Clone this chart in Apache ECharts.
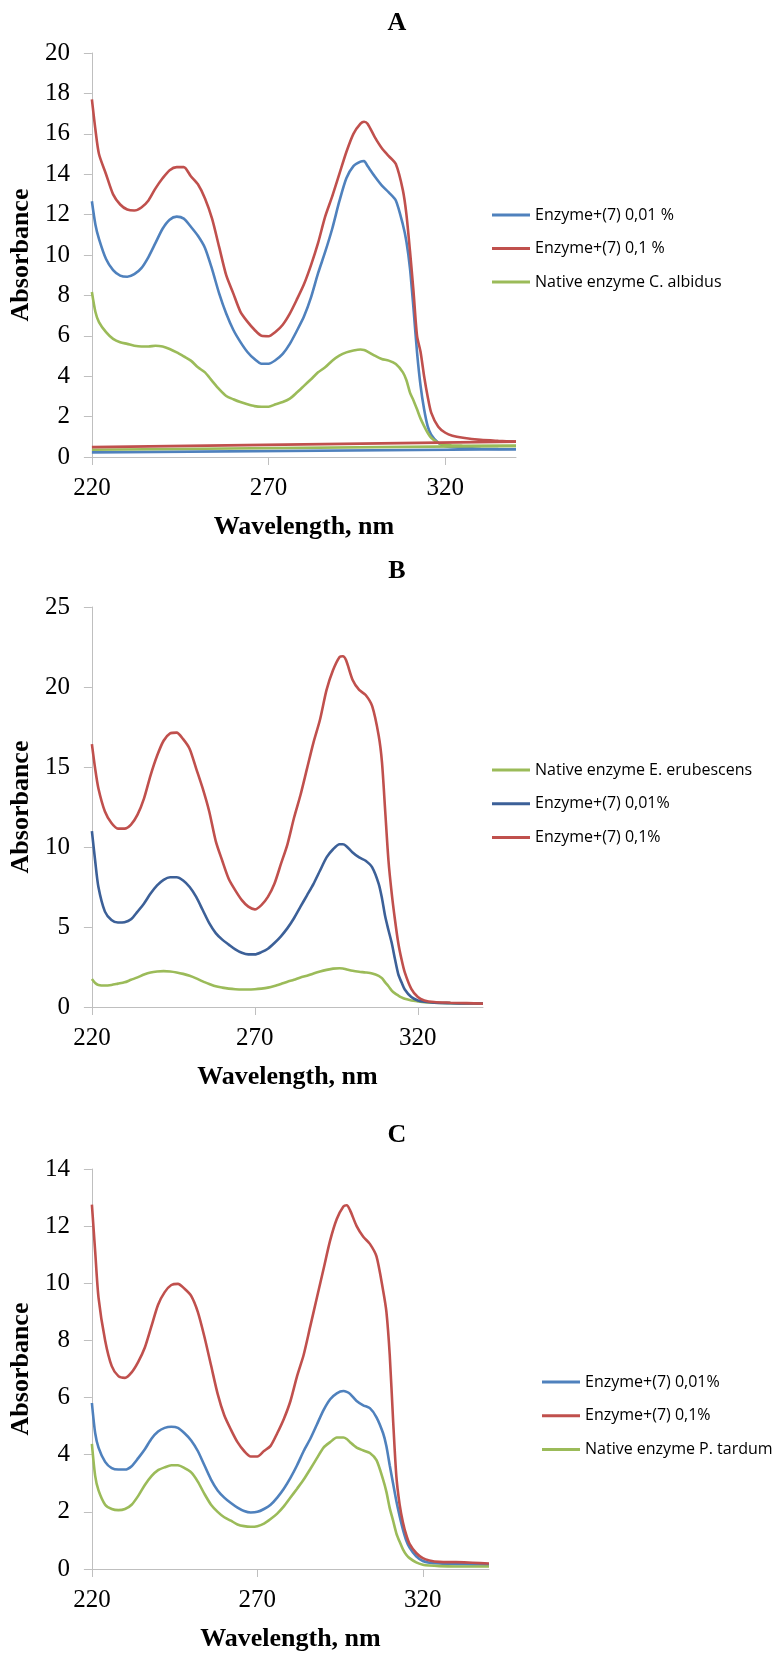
<!DOCTYPE html>
<html>
<head>
<meta charset="utf-8">
<script src="https://cdn.jsdelivr.net/npm/echarts@6/dist/echarts.min.js"></script>
<style>
  body { margin: 0; background: #fff; }
  .panel { position: absolute; left: 0; width: 772px; }
</style>
</head>
<body>
<div id="chartA" class="panel" style="top:0;height:545px"></div>
<div id="chartB" class="panel" style="top:545px;height:550px"></div>
<div id="chartC" class="panel" style="top:1095px;height:562px"></div>
<script>
// wavelength grid (nm) shared by all spectra
const wavelength = [220, 221, 222, 224, 226, 228, 230, 232, 234, 236, 238, 240, 242, 244, 246, 248, 250, 252, 254, 256,
  258, 260, 262, 264, 266, 268, 270, 272, 274, 276, 278, 280, 282, 284, 286, 288, 290, 292, 294, 296, 297, 298,
  300, 302, 304, 306, 308, 309, 310, 311, 312, 313, 314, 315, 316, 318, 320, 322, 325, 330, 335, 340];
const xTickValues = [220, 270, 320];

// Panel A
const aEnzyme001 = [12.66, 11.5, 10.8, 9.8, 9.25, 8.98, 8.92, 9.05, 9.35, 9.9, 10.6, 11.3, 11.75,
  11.9, 11.8, 11.4, 10.95, 10.35, 9.3, 8.1, 7.1, 6.3, 5.7, 5.2, 4.85, 4.62, 4.62, 4.8, 5.1, 5.6, 6.25, 6.95, 7.9,
  9.1, 10.15, 11.3, 12.65, 13.8, 14.4, 14.62, 14.65, 14.4, 13.9, 13.45, 13.1, 12.7, 11.5,
  10.66, 9.34, 7.34, 5.18, 3.52, 2.36, 1.53, 1.11, 0.7, 0.53, 0.48, 0.45, 0.41, 0.39, 0.38];
const aEnzyme01 = [17.7, 16.2, 15.0, 14.0, 13.0, 12.5, 12.25, 12.2, 12.35, 12.7, 13.3, 13.8, 14.2,
  14.35, 14.35, 13.9, 13.5, 12.8, 11.8, 10.4, 9.0, 8.1, 7.2, 6.7, 6.3, 6.0, 5.98, 6.2, 6.55, 7.1, 7.8, 8.55, 9.5,
  10.6, 11.9, 12.9, 14.0, 15.1, 16.0, 16.5, 16.6, 16.5, 15.85, 15.3, 14.9, 14.5, 13.2,
  12.0, 10.2, 8.2, 6.0, 5.2, 4.0, 3.0, 2.2, 1.5, 1.2, 1.05, 0.95, 0.85, 0.8, 0.76];
const aNative = [8.17, 7.18, 6.68, 6.18, 5.85, 5.68, 5.6, 5.51, 5.47, 5.47, 5.51, 5.47, 5.35,
  5.18, 4.98, 4.77, 4.44, 4.19, 3.77, 3.36, 3.02, 2.86, 2.72, 2.61, 2.52, 2.49, 2.49, 2.61, 2.72, 2.89, 3.19, 3.52, 3.85,
  4.19, 4.44, 4.77, 5.02, 5.18, 5.27, 5.32, 5.3, 5.22, 5.02, 4.85, 4.77, 4.6, 4.19,
  3.8, 3.19, 2.8, 2.36, 1.9, 1.53, 1.2, 0.95, 0.7, 0.6, 0.57, 0.56, 0.55, 0.55, 0.55];
// the scans in A run back from 340 to 220 as straight lines near the bottom
const aReturnX = [340, 220];
const aReturn001 = [0.38, 0.23];
const aReturn01 = [0.76, 0.49];
const aReturnNative = [0.55, 0.36];

// Panel B
const bNative = [1.75, 1.5, 1.38, 1.34, 1.38, 1.46, 1.54, 1.7, 1.85, 2.03, 2.16, 2.22, 2.24,
  2.22, 2.16, 2.07, 1.95, 1.79, 1.6, 1.44, 1.29, 1.21, 1.15, 1.11, 1.09, 1.09, 1.11, 1.15, 1.21, 1.31, 1.44, 1.58, 1.7,
  1.85, 1.95, 2.1, 2.22, 2.32, 2.4, 2.42, 2.41, 2.36, 2.26, 2.2, 2.16, 2.1, 1.95,
  1.8, 1.54, 1.3, 1.03, 0.85, 0.72, 0.6, 0.51, 0.41, 0.35, 0.3, 0.27, 0.24, 0.22, 0.21];
const bEnzyme001 = [10.99, 9.14, 7.5, 5.96, 5.44, 5.28, 5.3, 5.48, 5.96, 6.47, 7.09, 7.6, 7.95,
  8.11, 8.11, 7.91, 7.5, 6.88, 6.06, 5.24, 4.62, 4.21, 3.9, 3.6, 3.39, 3.29, 3.29, 3.43, 3.64, 4.0, 4.42, 4.93, 5.55,
  6.27, 6.98, 7.7, 8.53, 9.35, 9.86, 10.17, 10.17, 10.07, 9.66, 9.35, 9.14, 8.73, 7.7,
  6.8, 5.65, 4.8, 4.0, 2.98, 2.05, 1.54, 1.09, 0.62, 0.41, 0.33, 0.27, 0.24, 0.22, 0.21];
const bEnzyme01 = [16.43, 14.9, 13.66, 12.22, 11.5, 11.15, 11.15, 11.4, 12.02, 13.04, 14.48, 15.7, 16.64,
  17.1, 17.15, 16.74, 16.13, 14.9, 13.66, 12.22, 10.37, 9.14, 8.0, 7.29, 6.68, 6.27, 6.1, 6.37, 6.88, 7.7, 8.94, 10.17, 11.81,
  13.25, 14.9, 16.54, 17.97, 19.82, 21.06, 21.88, 21.92, 21.67, 20.44, 19.82, 19.5, 18.8, 16.95,
  15.3, 12.22, 9.14, 7.09, 5.44, 4.0, 2.98, 2.16, 1.13, 0.62, 0.41, 0.31, 0.27, 0.24, 0.21];

// Panel C
const cEnzyme001 = [5.81, 4.75, 4.25, 3.75, 3.53, 3.48, 3.48, 3.6, 3.88, 4.19, 4.56, 4.81, 4.94,
  4.98, 4.94, 4.75, 4.5, 4.13, 3.63, 3.13, 2.75, 2.5, 2.31, 2.15, 2.03, 1.98, 2.0, 2.1, 2.25, 2.5, 2.81, 3.19, 3.63,
  4.13, 4.56, 5.06, 5.56, 5.94, 6.15, 6.23, 6.2, 6.13, 5.88, 5.73, 5.63, 5.31, 4.75,
  4.3, 3.63, 3.0, 2.38, 1.85, 1.38, 1.0, 0.75, 0.44, 0.28, 0.22, 0.19, 0.17, 0.16, 0.15];
const cEnzyme01 = [12.75, 11.1, 9.5, 8.0, 7.1, 6.75, 6.69, 6.88, 7.25, 7.75, 8.5, 9.25, 9.69,
  9.94, 9.98, 9.81, 9.56, 9.0, 8.13, 7.13, 6.13, 5.38, 4.88, 4.44, 4.13, 3.94, 3.94, 4.13, 4.31, 4.75, 5.25, 5.88, 6.75,
  7.5, 8.5, 9.5, 10.5, 11.5, 12.25, 12.69, 12.73, 12.56, 12.0, 11.63, 11.38, 10.94, 9.75,
  9.0, 7.5, 5.25, 3.25, 2.25, 1.63, 1.19, 0.88, 0.56, 0.38, 0.3, 0.25, 0.24, 0.22, 0.19];
const cNative = [4.38, 3.25, 2.75, 2.25, 2.1, 2.06, 2.1, 2.25, 2.56, 2.94, 3.25, 3.46, 3.56,
  3.63, 3.63, 3.53, 3.38, 3.06, 2.63, 2.25, 2.0, 1.81, 1.69, 1.56, 1.5, 1.48, 1.5, 1.59, 1.75, 1.94, 2.19, 2.5, 2.81,
  3.13, 3.5, 3.88, 4.25, 4.44, 4.6, 4.6, 4.55, 4.44, 4.25, 4.15, 4.06, 3.81, 3.13,
  2.7, 2.13, 1.7, 1.25, 0.95, 0.69, 0.5, 0.38, 0.23, 0.15, 0.12, 0.1, 0.09, 0.09, 0.09];

const BLUE = "#4F81BD";
const DARK_BLUE = "#3C6098";
const RED = "#C0504D";
const GREEN = "#9BBB59";
const AXIS_GREY = "#BFBFBF";
const SERIF = '"Liberation Serif", "Times New Roman", serif';
const SANS = '"Open Sans", "Noto Sans", sans-serif';

const pairs = (xs, ys) => xs.map((x, i) => [x, ys[i]]);

function line(name, xs, ys, color) {
  return {
    name: name,
    type: "line",
    data: pairs(xs, ys),
    showSymbol: false,
    symbol: "none",
    smooth: 0.25,
    lineStyle: { color: color, width: 2.6 },
    itemStyle: { color: color },
  };
}

function buildOption(p) {
  return {
    animation: false,
    graphic: [
      {
        type: "text",
        x: 397,
        y: p.titleY,
        style: {
          text: p.title,
          font: "bold 26px " + SERIF,
          fill: "#000",
          align: "center",
          verticalAlign: "middle",
        },
      },
    ],
    legend: {
      orient: "vertical",
      left: p.legendLeft,
      top: p.legendTop,
      itemGap: p.legendGap,
      itemWidth: 38,
      itemHeight: 3,
      icon: "rect",
      data: p.legendNames,
      textStyle: { fontFamily: SANS, fontSize: 16, color: "#000", lineHeight: 16 },
    },
    grid: p.grid,
    xAxis: {
      type: "value",
      min: 220,
      max: 340,
      interval: 10,
      name: "Wavelength, nm",
      nameLocation: "middle",
      nameGap: 57,
      nameTextStyle: { fontFamily: SERIF, fontWeight: "bold", fontSize: 26, color: "#000" },
      axisLine: { show: true, lineStyle: { color: AXIS_GREY, width: 1 } },
      axisTick: { show: true, length: 8, customValues: xTickValues, lineStyle: { color: AXIS_GREY } },
      axisLabel: { customValues: xTickValues, margin: 19, fontFamily: SERIF, fontSize: 25, color: "#000" },
      splitLine: { show: false },
    },
    yAxis: {
      type: "value",
      min: 0,
      max: p.yMax,
      interval: p.yInterval,
      name: "Absorbance",
      nameLocation: "middle",
      nameGap: 51,
      nameTextStyle: { fontFamily: SERIF, fontWeight: "bold", fontSize: 26, color: "#000" },
      axisLine: { show: true, lineStyle: { color: AXIS_GREY, width: 1 } },
      axisTick: { show: true, length: 8, lineStyle: { color: AXIS_GREY } },
      axisLabel: { margin: 22, fontFamily: SERIF, fontSize: 25, color: "#000" },
      splitLine: { show: false },
    },
    series: p.series,
  };
}

const chartA = echarts.init(document.getElementById("chartA"));
chartA.setOption(buildOption({
  title: "A",
  titleY: 23,
  grid: { left: 91, top: 53, width: 425, height: 408 },
  yMax: 20,
  yInterval: 2,
  legendLeft: 487,
  legendTop: 202,
  legendGap: 17.5,
  legendNames: ["Enzyme+(7) 0,01 %", "Enzyme+(7) 0,1 %", "Native enzyme C. albidus"],
  series: [
    line("Enzyme+(7) 0,01 %", wavelength, aEnzyme001, BLUE),
    line("Enzyme+(7) 0,1 %", wavelength, aEnzyme01, RED),
    line("Native enzyme C. albidus", wavelength, aNative, GREEN),
    line("return 0,01", aReturnX, aReturn001, BLUE),
    line("return native", aReturnX, aReturnNative, GREEN),
    line("return 0,1", aReturnX, aReturn01, RED),
  ],
}));

const chartB = echarts.init(document.getElementById("chartB"));
chartB.setOption(buildOption({
  title: "B",
  titleY: 26,
  grid: { left: 88, top: 62, width: 395, height: 411 },
  yMax: 25,
  yInterval: 5,
  legendLeft: 487,
  legendTop: 212,
  legendGap: 17.7,
  legendNames: ["Native enzyme E. erubescens", "Enzyme+(7) 0,01%", "Enzyme+(7) 0,1%"],
  series: [
    line("Native enzyme E. erubescens", wavelength, bNative, GREEN),
    line("Enzyme+(7) 0,01%", wavelength, bEnzyme001, DARK_BLUE),
    line("Enzyme+(7) 0,1%", wavelength, bEnzyme01, RED),
  ],
}));

const chartC = echarts.init(document.getElementById("chartC"));
chartC.setOption(buildOption({
  title: "C",
  titleY: 40,
  grid: { left: 91, top: 74, width: 398, height: 407 },
  yMax: 14,
  yInterval: 2,
  legendLeft: 537,
  legendTop: 274,
  legendGap: 17.8,
  legendNames: ["Enzyme+(7) 0,01%", "Enzyme+(7) 0,1%", "Native enzyme P. tardum"],
  series: [
    line("Enzyme+(7) 0,01%", wavelength, cEnzyme001, BLUE),
    line("Enzyme+(7) 0,1%", wavelength, cEnzyme01, RED),
    line("Native enzyme P. tardum", wavelength, cNative, GREEN),
  ],
}));
</script>
</body>
</html>
